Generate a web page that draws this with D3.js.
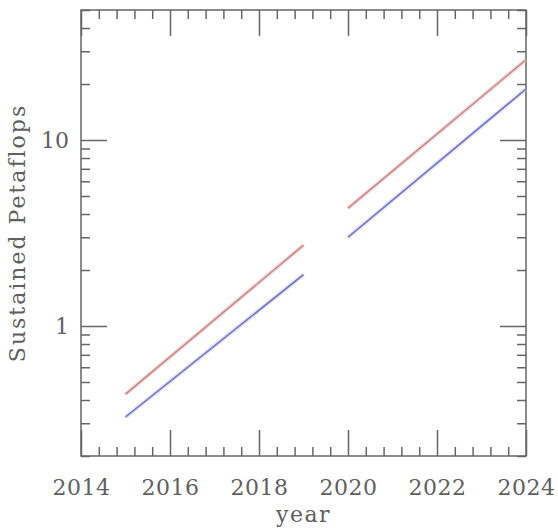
<!DOCTYPE html>
<html>
<head>
<meta charset="utf-8">
<script src="https://cdn.jsdelivr.net/npm/d3@7"></script>
<style>
  body { margin: 0; background: #fff; }
  text { font-family: "DejaVu Serif", serif; fill: #606060; }
</style>
</head>
<body>
<div id="chart"></div>
<script>
// data: two phases, each a straight line on the log scale
const phaseYears = [[2015, 2019], [2020, 2024]];
const upperValues = [[0.43, 2.72], [4.3, 27]];   // red
const lowerValues = [[0.324, 1.89], [3.0, 18.8]]; // blue

const xMajorTicks = [2014, 2016, 2018, 2020, 2022, 2024];
const xMinorTicks = d3.range(2014, 2024.01, 0.4).filter(d => Math.abs(d - Math.round(d / 2) * 2) > 0.01);
const yMajorTicks = [1, 10];
const yMinorTicks = [0.2, 0.3, 0.4, 0.5, 0.6, 0.7, 0.8, 0.9, 2, 3, 4, 5, 6, 7, 8, 9, 20, 30, 40, 50];

const W = 558, H = 529;
const margin = { top: 10, right: 32, bottom: 73, left: 81 };
const width = W - margin.left - margin.right,
    height = H - margin.top - margin.bottom;

const svg = d3.select("#chart").append("svg")
    .attr("width", W)
    .attr("height", H);

const g = svg.append("g")
    .attr("transform", `translate(${margin.left},${margin.top})`);

const x = d3.scaleLinear().domain([2014, 2024]).range([0, width]);
const y = d3.scaleLog().domain([0.2, 50]).range([height, 0]);

const axisColor = "#666";
const majorLen = 26, minorLen = 9;

// helper to draw one side of ticks
function drawAxis(axisFn, scale, values, len, transform, labels) {
    const a = g.append("g")
        .attr("transform", transform)
        .call(axisFn(scale).tickValues(values).tickSize(-len)
            .tickFormat(labels ? (d => d3.format("d")(d)) : ""));
    a.select(".domain").remove();
    a.selectAll("line").attr("stroke", axisColor).attr("stroke-width", 1.5);
    return a;
}

// bottom
const bottomMajor = drawAxis(d3.axisBottom, x, xMajorTicks, majorLen, `translate(0,${height})`, true);
bottomMajor.selectAll("text")
    .attr("dy", null).attr("y", 39)
    .style("font-size", "22px")
    .style("letter-spacing", "0.5px");
drawAxis(d3.axisBottom, x, xMinorTicks, minorLen, `translate(0,${height})`, false);
// top
drawAxis(d3.axisTop, x, xMajorTicks, majorLen, "translate(0,0)", false);
drawAxis(d3.axisTop, x, xMinorTicks, minorLen, "translate(0,0)", false);
// left
const leftMajor = drawAxis(d3.axisLeft, y, yMajorTicks, majorLen, "translate(0,0)", true);
leftMajor.selectAll("text")
    .attr("x", -12).attr("dy", "0.36em")
    .style("font-size", "22px");
drawAxis(d3.axisLeft, y, yMinorTicks, minorLen, "translate(0,0)", false);
// right
drawAxis(d3.axisRight, y, yMajorTicks, majorLen, `translate(${width},0)`, false);
drawAxis(d3.axisRight, y, yMinorTicks, minorLen, `translate(${width},0)`, false);

// frame
g.append("rect")
    .attr("width", width)
    .attr("height", height)
    .attr("fill", "none")
    .attr("stroke", axisColor)
    .attr("stroke-width", 1.5);

// lines
const line = d3.line()
    .x(d => x(d[0]))
    .y(d => y(d[1]));

function drawSeries(values, color) {
    phaseYears.forEach((yrs, i) => {
        const pts = yrs.map((yr, j) => [yr, values[i][j]]);
        g.append("path")
            .datum(pts)
            .attr("d", line)
            .attr("fill", "none")
            .attr("stroke", "#c4c4c4")
            .attr("stroke-width", 4)
            .attr("stroke-opacity", 0.55);
        g.append("path")
            .datum(pts)
            .attr("d", line)
            .attr("fill", "none")
            .attr("stroke", color)
            .attr("stroke-width", 1.5);
    });
}
drawSeries(upperValues, "#e27c7c");
drawSeries(lowerValues, "#6a6ae0");

// axis titles
g.append("text")
    .attr("x", width / 2)
    .attr("y", height + 66)
    .attr("text-anchor", "middle")
    .style("font-size", "22px")
    .style("letter-spacing", "1.5px")
    .text("year");

g.append("text")
    .attr("transform", "rotate(-90)")
    .attr("x", -height / 2)
    .attr("y", -56)
    .attr("text-anchor", "middle")
    .style("font-size", "22px")
    .style("letter-spacing", "2px")
    .text("Sustained Petaflops");
</script>
</body>
</html>
